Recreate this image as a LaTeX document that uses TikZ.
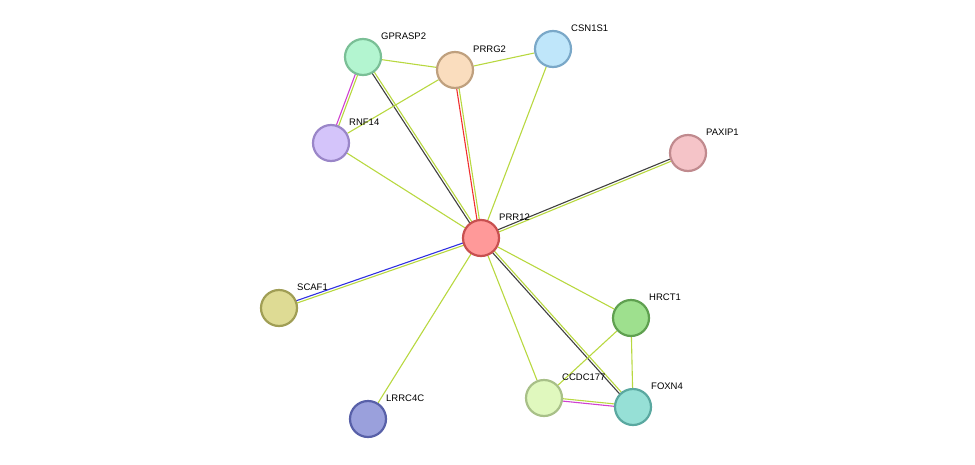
\documentclass[tikz,border=0pt]{standalone}
\usepackage{fontspec}
\setmainfont{Liberation Sans}
\usetikzlibrary{calc,backgrounds}
\definecolor{eg}{HTML}{B8D840}
\definecolor{ek}{HTML}{404040}
\definecolor{er}{HTML}{F03030}
\definecolor{em}{HTML}{D040D0}
\definecolor{eb}{HTML}{3030E0}
\tikzset{x=1pt,y=-1pt,
 prot/.style={circle,minimum size=36pt,inner sep=0pt,line width=2.2pt},
 lab/.style={anchor=west,font=\fontsize{9.5}{11}\selectfont,inner sep=0pt},
 ed/.style={line width=1.1pt}}
\newcommand{\one}[3]{\draw[ed,#3] (#1) -- (#2);}
\newcommand{\two}[4]{\draw[ed,#3] ($(#1)!1.2pt!90:(#2)$) -- ($(#2)!1.2pt!-90:(#1)$);
 \draw[ed,#4] ($(#1)!1.2pt!-90:(#2)$) -- ($(#2)!1.2pt!90:(#1)$);}
\begin{document}
\begin{tikzpicture}
\useasboundingbox (0,0) rectangle (975,464);
\foreach \n/\x/\y/\f/\d in {
 PRR12/481/238/FF9999/C85050, GPRASP2/363/57/B3F5D0/7ABF96, PRRG2/455/70/FADDBE/BFA07E,
 CSN1S1/553/49/BFE6FA/7AA8C8, RNF14/331/143/D4C4FA/9A86C8, PAXIP1/688/153/F5C4C8/C08A8E,
 SCAF1/279/308/DEDB94/A09E55, HRCT1/631/318/9EE08E/5FA050, CCDC177/544/398/E0F8BE/A8C088,
 FOXN4/633/407/96E0D6/5AA8A0, LRRC4C/368/419/9AA0DC/5860A8}{
 \definecolor{f\n}{HTML}{\f}\definecolor{d\n}{HTML}{\d}
 \node[prot,fill=f\n,draw=d\n] (\n) at (\x,\y) {};
 \node[lab] (l\n) at (\x+18,\y-21) {\n};
}
\begin{scope}[on background layer]
\two{PRR12}{GPRASP2}{ek}{eg}
\two{PRR12}{PRRG2}{er}{eg}
\one{PRR12}{CSN1S1}{eg}
\one{PRR12}{RNF14}{eg}
\two{PRR12}{PAXIP1}{ek}{eg}
\two{PRR12}{SCAF1}{eg}{eb}
\one{PRR12}{HRCT1}{eg}
\one{PRR12}{CCDC177}{eg}
\two{PRR12}{FOXN4}{eg}{ek}
\one{PRR12}{LRRC4C}{eg}
\one{GPRASP2}{PRRG2}{eg}
\one{PRRG2}{CSN1S1}{eg}
\two{GPRASP2}{RNF14}{eg}{em}
\one{RNF14}{PRRG2}{eg}
\one{HRCT1}{FOXN4}{eg}
\one{HRCT1}{CCDC177}{eg}
\two{CCDC177}{FOXN4}{eg}{em}
\end{scope}
\end{tikzpicture}
\end{document}
